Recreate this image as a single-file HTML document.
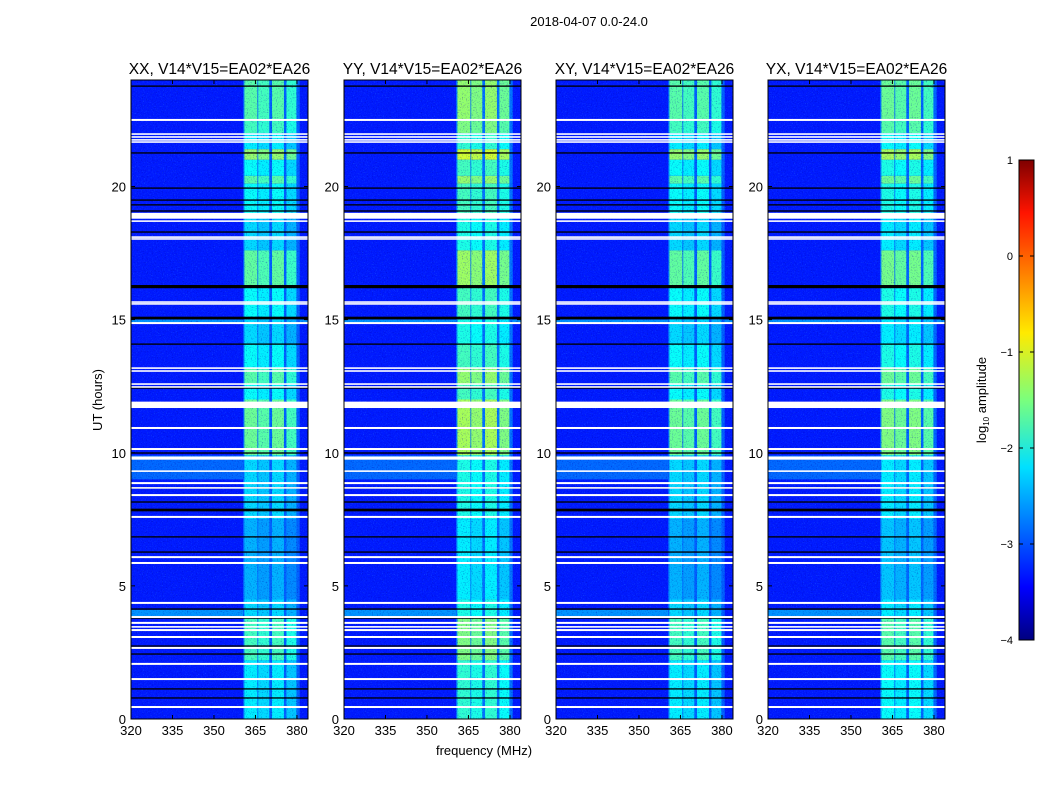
<!DOCTYPE html>
<html><head><meta charset="utf-8"><style>
body{margin:0;background:#fff;}
svg text{font-family:"Liberation Sans",sans-serif;fill:#000;}
</style></head><body>
<svg id="chart" width="1050" height="800" xmlns="http://www.w3.org/2000/svg">
<defs>
<linearGradient id="jet" x1="0" y1="1" x2="0" y2="0">
<stop offset="0" stop-color="#00007f"/><stop offset="0.11" stop-color="#0000ff"/><stop offset="0.36" stop-color="#00e0ff"/><stop offset="0.5" stop-color="#7aff7d"/><stop offset="0.64" stop-color="#ffea00"/><stop offset="0.89" stop-color="#ff1400"/><stop offset="1" stop-color="#7f0000"/>
</linearGradient>
<filter id="noise" x="0" y="0" width="100%" height="100%"><feTurbulence type="fractalNoise" baseFrequency="0.9" numOctaves="1" seed="3"/><feColorMatrix values="0 0 0 0 0.05  0 0 0 0 0.5  0 0 0 0 1  0 0 0 2.4 -1.4"/></filter>
<filter id="dark" x="0" y="0" width="100%" height="100%"><feTurbulence type="fractalNoise" baseFrequency="0.8" numOctaves="1" seed="9"/><feColorMatrix values="0 0 0 0 0  0 0 0 0 0  0 0 0 0 0.4  0 0 0 2.4 -1.3"/></filter>
</defs>
<text x="589" y="26" font-size="13" text-anchor="middle">2018-04-07 0.0-24.0</text>
<g id="panels"></g>
<text x="484" y="755" font-size="13" text-anchor="middle">frequency (MHz)</text>
<text transform="translate(102,400) rotate(-90)" font-size="13" text-anchor="middle">UT (hours)</text>
<g>
<rect x="1019" y="160" width="15" height="480" fill="url(#jet)" stroke="#000" stroke-width="1"/>
<g id="cbticks"></g>
<text transform="translate(986,400) rotate(-90)" font-size="13" text-anchor="middle">log<tspan font-size="8" dy="3">10</tspan><tspan dy="-3"> amplitude</tspan></text>
</g>
</svg>
<script>
const panelTitles=["XX, V14*V15=EA02*EA26","YY, V14*V15=EA02*EA26","XY, V14*V15=EA02*EA26","YX, V14*V15=EA02*EA26"];
const panelGain=[0,0.3,0,0.1];
const xTicks=[320,335,350,365,380];
const yTicks=[0,5,10,15,20];
const cbTicks=[1,0,-1,-2,-3,-4];
const bgLevel=-3.25;
const channels=[[361,365.7],[366,370],[371,375.3],[376.2,379.8]];
const channelOffset=[0,-0.1,0,-0.2];
// [startHour,endHour,level]
const segments=[[22.5,24,-1.7],[22,22.5,-1.8],[21.4,22,-2.2],[21,21.4,-1.4],[20.4,21,-2.1],[20.1,20.4,-1.7],[19,20.1,-2.1],[18.7,19,-2.3],[17.6,18.7,-2.3],[16.3,17.6,-1.65],[15.1,16.3,-2.1],[14.1,15.1,-2.3],[13.2,14.1,-2.1],[12.6,13.2,-1.7],[12,12.6,-2.1],[9.9,12,-1.6],[7.5,9.9,-2.3],[4.5,7.5,-2.5],[3.8,4.5,-2.3],[2.2,3.8,-1.8],[0,2.2,-2.2]];
// [startHour,endHour,level,freqMax]
const stripes=[[3.85,4.1,-2.4,361],[9.0,9.9,-2.7,361],[14.85,15.0,-2.4,384]];
// [hour,thicknessHours]
const whiteFlags=[[22.5,0.075],[21.97,0.06],[21.86,0.06],[21.75,0.06],[21.67,0.06],[18.9,0.22],[18.7,0.06],[18.1,0.06],[18.03,0.06],[15.66,0.06],[15.59,0.06],[14.87,0.075],[13.18,0.06],[13.07,0.06],[12.58,0.06],[12.47,0.06],[11.8,0.24],[10.93,0.075],[10.14,0.075],[9.8,0.12],[9.31,0.06],[8.86,0.075],[8.68,0.06],[8.41,0.075],[7.59,0.075],[6.08,0.075],[5.86,0.075],[4.36,0.075],[3.83,0.075],[3.61,0.075],[3.46,0.06],[3.34,0.075],[3.08,0.075],[2.67,0.075],[2.07,0.075],[1.5,0.075],[0.45,0.075]];
const blackFlags=[[23.77,0.05],[21.26,0.05],[19.94,0.05],[19.49,0.05],[19.31,0.05],[19.08,0.05],[18.29,0.05],[16.24,0.12],[15.06,0.1],[14.08,0.05],[12.43,0.05],[9.99,0.05],[8.68,0.05],[8.15,0.05],[7.85,0.1],[6.84,0.05],[6.27,0.05],[4.13,0.05],[3.79,0.05],[2.74,0.05],[2.44,0.05],[1.13,0.05],[0.79,0.05]];

const NS="http://www.w3.org/2000/svg";
function mk(tag,attrs,parent){const e=document.createElementNS(NS,tag);for(const k in attrs)e.setAttribute(k,attrs[k]);parent.appendChild(e);return e;}
function jet(v){let t=(v+4)/5;t=Math.max(0,Math.min(1,t));
 const r=Math.max(0,Math.min(1,1.5-Math.abs(4*t-3))),g=Math.max(0,Math.min(1,1.5-Math.abs(4*t-2))),b=Math.max(0,Math.min(1,1.5-Math.abs(4*t-1)));
 return `rgb(${Math.round(r*255)},${Math.round(g*255)},${Math.round(b*255)})`;}
const panelX=[131,344,556,768],PW=177,PT=80,PB=719;
const F0=320,F1=384;
const panels=document.getElementById('panels');
panelX.forEach((px,pi)=>{
 const xs=f=>px+(f-F0)/(F1-F0)*PW;
 const ys=h=>PB-h/24*(PB-PT);
 const g=mk('g',{},panels);
 
 
 const bg=mk('rect',{x:px,y:PT,width:PW,height:PB-PT,fill:jet(bgLevel)},g);
 
 
 stripes.forEach(s=>{const r=mk('rect',{x:px,y:ys(s[1]),width:xs(s[3])-px,height:ys(s[0])-ys(s[1]),fill:jet(s[2]),opacity:0.7},g);
  
  });
 segments.forEach(s=>{
  const r0=mk('rect',{x:xs(360.5),y:ys(s[1]),width:xs(381)-xs(360.5),height:ys(s[0])-ys(s[1]),fill:jet(bgLevel+0.35+panelGain[pi]*0.3)},g);
  
  
  channels.forEach((c,ci)=>{const r=mk('rect',{x:xs(c[0]),y:ys(s[1]),width:xs(c[1])-xs(c[0]),height:ys(s[0])-ys(s[1]),fill:jet(s[2]+channelOffset[ci]+panelGain[pi])},g);
   
   });
 });
 const nz=mk('rect',{x:px,y:PT,width:PW,height:PB-PT,filter:'url(#noise)',opacity:0.5},g);
 
 
 const dz=mk('rect',{x:px,y:PT,width:PW,height:PB-PT,filter:'url(#dark)',opacity:0.6},g);
 
 
 blackFlags.forEach(b=>{const r=mk('rect',{x:px,y:ys(b[0]+b[1]/2),width:PW,height:Math.max(1,b[1]/24*(PB-PT)),fill:'#000'},g);
  
  });
 whiteFlags.forEach(w=>{const r=mk('rect',{x:px,y:ys(w[0]+w[1]/2),width:PW,height:w[1]/24*(PB-PT),fill:'#fff'},g);
  
  });
 const fr=mk('rect',{x:px,y:PT,width:PW,height:PB-PT,fill:'none',stroke:'#000','stroke-width':1},g);
 
 
 const t=mk('text',{x:px+PW/2,y:74,'font-size':15.5,'text-anchor':'middle'},g);t.textContent=panelTitles[pi];
 
 
 xTicks.forEach(v=>{const x=xs(v);
  mk('line',{x1:x,x2:x,y1:PB,y2:PB-4,stroke:'#000'},g);mk('line',{x1:x,x2:x,y1:PT,y2:PT+4,stroke:'#000'},g);
  const l=mk('text',{x:x,y:PB+16,'font-size':13,'text-anchor':'middle'},g);l.textContent=v;
  
  });
 yTicks.forEach(v=>{const y=ys(v);
  mk('line',{x1:px,x2:px+4,y1:y,y2:y,stroke:'#000'},g);mk('line',{x1:px+PW,x2:px+PW-4,y1:y,y2:y,stroke:'#000'},g);
  const l=mk('text',{x:px-5,y:y+5,'font-size':13,'text-anchor':'end'},g);l.textContent=v;
  
  });
});
const cb=document.getElementById('cbticks');
cbTicks.forEach(v=>{const y=160+(1-v)/5*480;
 mk('line',{x1:1019,x2:1023,y1:y,y2:y,stroke:'#000'},cb);mk('line',{x1:1034,x2:1030,y1:y,y2:y,stroke:'#000'},cb);
 const l=mk('text',{x:1013,y:y+4,'font-size':11,'text-anchor':'end'},cb);l.textContent=(v<0?'\u2212'+(-v):v);
 
 });
</script>
</body></html>
